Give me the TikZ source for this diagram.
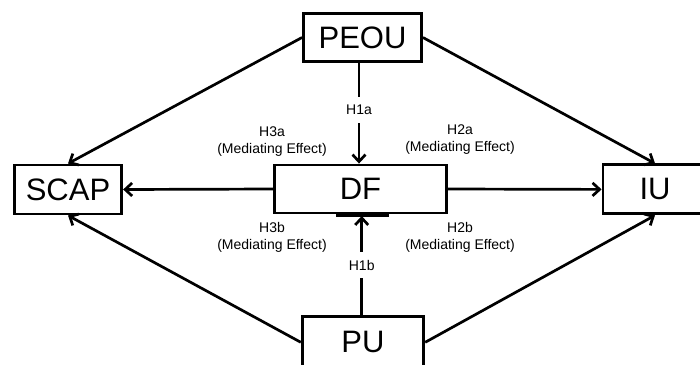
\documentclass[tikz,border=0pt]{standalone}
\usepackage{fontspec}
\setmainfont{Liberation Sans}
\usetikzlibrary{arrows.meta,calc}
\begin{document}
\begin{tikzpicture}[x=1pt,y=-1pt,
  box/.style={draw, line width=2.9pt, inner sep=0pt, font=\fontsize{31}{31}\selectfont},
  lbl/.style={font=\fontsize{14}{17}\selectfont, align=center, inner sep=0pt},
  hlbl/.style={font=\fontsize{14}{17}\selectfont, fill=white, inner xsep=2pt, inner ysep=8pt},
  arr/.style={line width=2.7pt, -{Straight Barb[length=7pt,width=13pt]}}]
\useasboundingbox (0,0) rectangle (700,364);
\node[box, minimum width=118pt, minimum height=48pt] (PEOU) at (362.5,37.5) {PEOU};
\node[box, minimum width=107.4pt, minimum height=49pt] (SCAP) at (68,189.5) {SCAP};
\node[box, minimum width=172.4pt, minimum height=48pt] (DF) at (360.5,189) {DF};
\node[box, minimum width=104pt, minimum height=49pt] (IU) at (655,189.4) {IU};
\node[box, minimum width=121.5pt, minimum height=52pt] (PU) at (363,342.3) {PU};
\draw[line width=2.9pt] ([xshift=-24.5pt,yshift=-0.8pt]DF.south) -- ([xshift=28.5pt,yshift=-0.8pt]DF.south);
% labels for vertical arrows
\coordinate (c1a) at (359,110);
\coordinate (c1b) at (361.7,265);
\draw[arr] (PEOU.south -| c1a) -- (DF.north -| c1a);
\draw[arr] (PU.north -| c1b) -- ([yshift=-1.5pt]DF.south -| c1b);
\node[hlbl] (H1a) at (c1a) {H1a};
\node[hlbl] (H1b) at (c1b) {H1b};
% horizontal
\draw[arr] (DF.west) -- (SCAP.east);
\draw[arr] (DF.east) -- (IU.west);
% diagonals
\draw[arr] (PEOU.west) -- (SCAP.north);
\draw[arr] (PEOU.east) -- (IU.north);
\draw[arr] (PU.west) -- (SCAP.south);
\draw[arr] (PU.east) -- (IU.south);
% mediating labels
\node[lbl] (H3a) at (272,141.5) {H3a\\(Mediating Effect)};
\node[lbl] (H2a) at (460,140) {H2a\\(Mediating Effect)};
\node[lbl] (H3b) at (272,237) {H3b\\(Mediating Effect)};
\node[lbl] (H2b) at (460,237.5) {H2b\\(Mediating Effect)};
\end{tikzpicture}
\end{document}
